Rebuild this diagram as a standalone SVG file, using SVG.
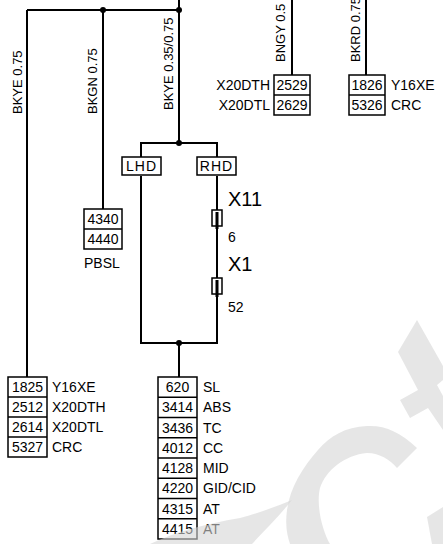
<svg xmlns="http://www.w3.org/2000/svg" width="443" height="544" viewBox="0 0 443 544">
<style>
.w{stroke:#000;stroke-width:2;fill:none}
.b{stroke:#000;stroke-width:1.5;fill:#fff}
.n{font-family:"Liberation Sans",Arial,sans-serif;font-size:14px;fill:#000;text-anchor:middle}
.l{font-family:"Liberation Sans",Arial,sans-serif;font-size:14px;fill:#000}
.r{font-family:"Liberation Sans",Arial,sans-serif;font-size:13px;fill:#000}
.big{font-family:"Liberation Sans",Arial,sans-serif;font-size:20px;fill:#000}
.wm{fill:#d6d6d6;opacity:0.6}
</style>
<rect width="443" height="544" fill="#fff"/>
<g id="connectors">
<path class="w" d="M27,10 H179 M179,0 V143 M27,10 V377 M103,10 V209 M141,158 V143 H217 V158 M141,176 V343 H217 V176 M179,343 V377 M292,0 V75 M366,0 V75"/>
<circle cx="103" cy="10" r="3"/>
<circle cx="179" cy="10" r="3"/>
<circle cx="179" cy="143" r="3"/>
<circle cx="179" cy="343" r="3"/>
<text class="r" transform="translate(22,114) rotate(-90)">BKYE 0.75</text>
<text class="r" transform="translate(97,114) rotate(-90)">BKGN 0.75</text>
<text class="r" transform="translate(173,110) rotate(-90)">BKYE 0.35/0.75</text>
<text class="r" transform="translate(285,62) rotate(-90)">BNGY 0.5</text>
<text class="r" transform="translate(360,62) rotate(-90)">BKRD 0.75</text>
</g>
<g id="X11">
<rect x="212" y="210" width="10" height="16" fill="#fff" stroke="#000" stroke-width="1.5"/>
<line x1="217" y1="212" x2="217" y2="229" stroke="#000" stroke-width="3"/>
<text class="big" x="228" y="206">X11</text>
<text class="l" x="228" y="242">6</text>
</g>
<g id="X1">
<rect x="212" y="278" width="10" height="16" fill="#fff" stroke="#000" stroke-width="1.5"/>
<line x1="217" y1="280" x2="217" y2="297" stroke="#000" stroke-width="3"/>
<text class="big" x="228" y="271">X1</text>
<text class="l" x="228" y="312">52</text>
</g>
<g id="LHD">
<rect class="b" x="122" y="157" width="39" height="18"/>
<text class="n" x="141.5" y="171" style="letter-spacing:1px">LHD</text>
</g>
<g id="RHD">
<rect class="b" x="197" y="157" width="39" height="18"/>
<text class="n" x="216.5" y="171" style="letter-spacing:1px">RHD</text>
</g>
<g id="PBSL">
<rect class="b" x="84" y="209" width="38" height="40"/>
<line x1="84" y1="229" x2="122" y2="229" stroke="#000" stroke-width="1.5"/>
<text class="n" x="103" y="224">4340</text>
<text class="n" x="103" y="244">4440</text>
<text class="l" x="84" y="268">PBSL</text>
</g>
<g id="top-left-box">
<rect class="b" x="274" y="75" width="36" height="40"/>
<line x1="274" y1="95" x2="310" y2="95" stroke="#000" stroke-width="1.5"/>
<text class="n" x="292" y="90">2529</text>
<text class="n" x="292" y="110">2629</text>
<text class="l" x="270" y="90" text-anchor="end">X20DTH</text>
<text class="l" x="270" y="110" text-anchor="end">X20DTL</text>
</g>
<g id="top-right-box">
<rect class="b" x="349" y="75" width="36" height="40"/>
<line x1="349" y1="95" x2="385" y2="95" stroke="#000" stroke-width="1.5"/>
<text class="n" x="367" y="90">1826</text>
<text class="n" x="367" y="110">5326</text>
<text class="l" x="391" y="90">Y16XE</text>
<text class="l" x="391" y="110">CRC</text>
</g>
<g id="left-box">
<rect class="b" x="8" y="377" width="39" height="80"/>
<path d="M8,397 H47 M8,417 H47 M8,437 H47" stroke="#000" stroke-width="1.5"/>
<text class="n" x="27.5" y="392">1825</text>
<text class="n" x="27.5" y="412">2512</text>
<text class="n" x="27.5" y="432">2614</text>
<text class="n" x="27.5" y="452">5327</text>
<text class="l" x="52" y="392">Y16XE</text>
<text class="l" x="52" y="412">X20DTH</text>
<text class="l" x="52" y="432">X20DTL</text>
<text class="l" x="52" y="452">CRC</text>
</g>
<g id="center-box">
<rect class="b" x="158" y="377" width="39" height="162"/>
<path d="M158,397.25 H197 M158,417.5 H197 M158,437.75 H197 M158,458 H197 M158,478.25 H197 M158,498.5 H197 M158,518.75 H197" stroke="#000" stroke-width="1.5"/>
<text class="n" x="177.5" y="392">620</text>
<text class="n" x="177.5" y="412.25">3414</text>
<text class="n" x="177.5" y="432.5">3436</text>
<text class="n" x="177.5" y="452.75">4012</text>
<text class="n" x="177.5" y="473">4128</text>
<text class="n" x="177.5" y="493.25">4220</text>
<text class="n" x="177.5" y="513.5">4315</text>
<text class="n" x="177.5" y="533.75">4415</text>
<text class="l" x="203" y="392">SL</text>
<text class="l" x="203" y="412.25">ABS</text>
<text class="l" x="203" y="432.5">TC</text>
<text class="l" x="203" y="452.75">CC</text>
<text class="l" x="203" y="473">MID</text>
<text class="l" x="203" y="493.25">GID/CID</text>
<text class="l" x="203" y="513.5">AT</text>
<text class="l" x="203" y="533.75">AT</text>
</g>
<g id="watermark">
<path class="wm" d="M417,448 C400,432 385,425 367,426 C345,427 330,436 318,450 C303,467 290,487 287,510 C285,525 287,535 290,544 L330,544 C322,530 316,505 320,488 C326,470 345,455 367,453 C380,453 390,460 397,468 Z"/>
<path class="wm" d="M417,320 L443,366 L443,380 L437,385 L443,396 L443,430 L428,408 L410,418 L400,400 L418,390 L398,352 Z"/>
<path class="wm" d="M427,517 L443,507 L443,544 L432,544 Z"/>
<path class="wm" d="M150,544 C175,532 205,524 240,518 C262,512 280,505 292,500 C280,515 265,530 252,544 Z"/>
</g>
</svg>
